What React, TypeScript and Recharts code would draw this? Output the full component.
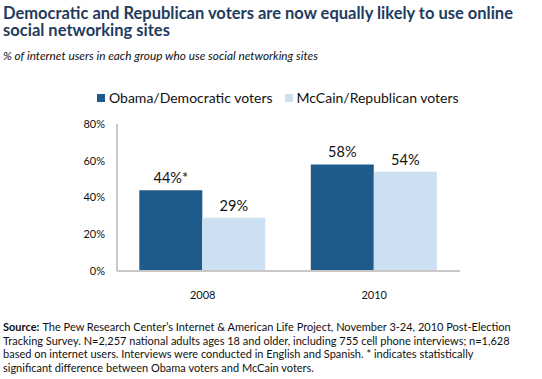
import React from "react"
import { BarChart, Bar, XAxis, YAxis, LabelList } from "recharts"

const years = ["2008", "2010"]
const obama = [44, 58]
const mccain = [29, 54]
const obamaNotes = ["*", ""]
const yTicks = [0, 20, 40, 60, 80]

const sourceLines = [
  "The Pew Research Center’s Internet & American Life Project, November 3-24, 2010 Post-Election",
  "Tracking Survey. N=2,257 national adults ages 18 and older, including 755 cell phone interviews; n=1,628",
  "based on internet users. Interviews were conducted in English and Spanish. * indicates statistically",
  "significant difference between Obama voters and McCain voters.",
]

const data = years.map((year, i) => ({
  year,
  obama: obama[i],
  mccain: mccain[i],
  obamaLabel: `${obama[i]}%${obamaNotes[i]}`,
  mccainLabel: `${mccain[i]}%`,
}))

const DARK = "#1f5b8a"
const LIGHT = "#cde0f1"
const FONT = "Lato, 'Open Sans', sans-serif"

function LegendBox() {
  const items = [
    { label: "Obama/Democratic voters", color: DARK },
    { label: "McCain/Republican voters", color: LIGHT },
  ]
  return (
    <div style={{ display: "flex", gap: 12, fontFamily: FONT, fontSize: 14, color: "#111" }}>
      {items.map((it) => (
        <div key={it.label} style={{ display: "flex", alignItems: "center" }}>
          <span style={{ width: 8, height: 8, background: it.color, display: "inline-block", marginRight: 4 }} />
          {it.label}
        </div>
      ))}
    </div>
  )
}

export default function App() {
  return (
    <div style={{ position: "absolute", left: 0, top: 0, width: 542, height: 379, background: "#fff", fontFamily: FONT, overflow: "hidden" }}>
      <div style={{ position: "absolute", left: 3, top: 5, fontSize: 16.5, fontWeight: 700, color: "#1f3b5e", lineHeight: "17px", width: 530 }}>
        Democratic and Republican voters are now equally likely to use online social networking sites
      </div>
      <div style={{ position: "absolute", left: 3, top: 48, fontSize: 11.8, fontStyle: "italic", color: "#111" }}>
        % of internet users in each group who use social networking sites
      </div>
      <div style={{ position: "absolute", left: 97, top: 89 }}>
        <LegendBox />
      </div>
      <div style={{ position: "absolute", left: 0, top: 80 }}>
        <BarChart width={542} height={230} data={data} margin={{ top: 44, right: 82, bottom: 9, left: 0 }} barGap={0} barCategoryGap="13%">
          <XAxis dataKey="year" height={30} tickLine={false} axisLine={{ stroke: "#c8c8c8", strokeWidth: 2 }} tick={{ fill: "#111", fontSize: 11, fontFamily: FONT }} tickMargin={14} />
          <YAxis width={117} domain={[0, 80]} ticks={yTicks} tickFormatter={(v) => `${v}%`} tickLine={false} tickSize={0} tickMargin={12} axisLine={{ stroke: "#c8c8c8", strokeWidth: 2 }} tick={{ fill: "#111", fontSize: 11, fontFamily: FONT }} />
          <Bar dataKey="obama" fill={DARK} isAnimationActive={false}>
            <LabelList dataKey="obamaLabel" position="top" offset={7} style={{ fill: "#111", fontSize: 14.5, fontFamily: FONT }} />
          </Bar>
          <Bar dataKey="mccain" fill={LIGHT} isAnimationActive={false}>
            <LabelList dataKey="mccainLabel" position="top" offset={7} style={{ fill: "#111", fontSize: 14.5, fontFamily: FONT }} />
          </Bar>
        </BarChart>
      </div>
      <div style={{ position: "absolute", left: 3, top: 320, width: 530, fontSize: 11, lineHeight: "13.5px", color: "#111", whiteSpace: "nowrap" }}>
        {sourceLines.map((line, i) => (
          <div key={i}>
            {i === 0 && <b style={{ marginRight: 3 }}>Source:</b>}
            <span>{line}</span>
          </div>
        ))}
      </div>
    </div>
  )
}
